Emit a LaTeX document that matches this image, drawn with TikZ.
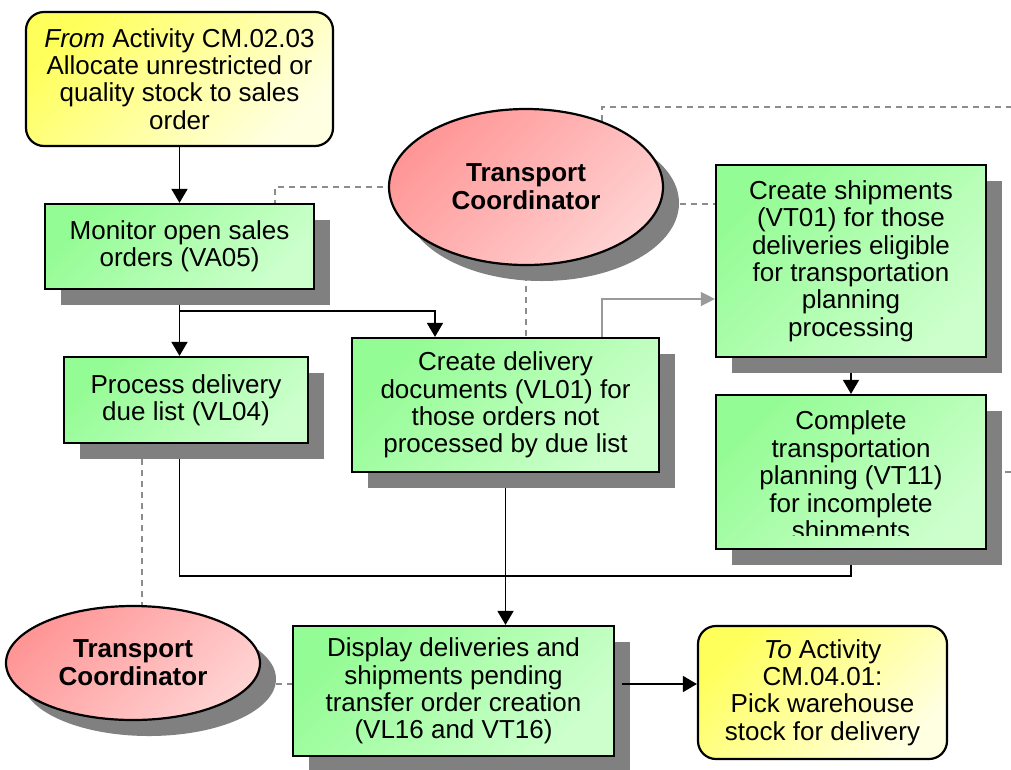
\documentclass[tikz,border=0pt]{standalone}
\usepackage{fontspec}
\setmainfont{Liberation Sans}
\usetikzlibrary{shapes.geometric,shadows,arrows.meta,backgrounds}

\definecolor{greenA}{HTML}{94FC94}
\definecolor{greenB}{HTML}{CCFFCC}
\definecolor{yelA}{HTML}{FFFF5C}
\definecolor{yelB}{HTML}{FFFFE2}
\definecolor{pinkA}{HTML}{FF9696}
\definecolor{pinkB}{HTML}{FFD2D2}
\definecolor{shadowgray}{HTML}{808080}
\definecolor{dashgray}{HTML}{8C8C8C}
\definecolor{linkgray}{HTML}{9A9A9A}

\tikzset{
  base/.style={inner sep=0pt, align=center, font=\fontsize{26}{27.4}\selectfont,
    line width=2.2pt, draw=black},
  boxshadow/.style={drop shadow={shadow xshift=16pt, shadow yshift=-16pt,
    fill=shadowgray, opacity=1}},
  task/.style={base, rectangle, top color=greenA, bottom color=greenB,
    shading angle=45, boxshadow},
  source/.style={base, rectangle, rounded corners=18pt, top color=yelA,
    bottom color=yelB, shading angle=45},
  role/.style={base, ellipse, font=\fontsize{26}{28}\selectfont\bfseries,
    top color=pinkA, bottom color=pinkB, shading angle=45, boxshadow},
  txt/.style={inner sep=0pt, align=center, font=\fontsize{26}{27.4}\selectfont},
  line/.style={line width=1.6pt, draw=black},
  conn/.style={line, -{Triangle[length=14pt,width=16pt]}},
  grayconn/.style={line width=1.4pt, draw=linkgray,
    -{Triangle[length=14pt,width=14pt]}},
  dsh/.style={draw=dashgray, line width=1.4pt, dash pattern=on 6pt off 5pt},
}

\begin{document}
\begin{tikzpicture}[x=1pt,y=-1pt]
\useasboundingbox (0,0) rectangle (1011,769);

% activity boxes
\node[source, minimum width=307pt, minimum height=134pt] (fromAct) at (179.5,79)
  {\textit{From} Activity CM.02.03\\Allocate unrestricted or\\quality stock to sales\\order};
\node[task, minimum width=269pt, minimum height=85pt] (monitor) at (179.5,246.5)
  {Monitor open sales\\orders (VA05)};
\node[task, minimum width=244pt, minimum height=86pt] (process) at (186,400)
  {Process delivery\\due list (VL04)};
\node[task, minimum width=307pt, minimum height=134pt] (createDel) at (505.5,405)
  {Create delivery\\documents (VL01) for\\those orders not\\processed by due list};
\node[task, minimum width=270pt, minimum height=192pt] (createShip) at (851,261)
  {Create shipments\\(VT01) for those\\deliveries eligible\\for transportation\\planning\\processing};
\node[task, minimum width=270pt, minimum height=154pt] (complete) at (851,472) {};
\begin{scope}
  \clip (718,397) rectangle (984,535);
  \node[txt] (completeText) at (851,478)
    {Complete\\transportation\\planning (VT11)\\for incomplete\\shipments};
\end{scope}
\node[task, minimum width=321pt, minimum height=130pt] (display) at (453.5,691)
  {Display deliveries and\\shipments pending\\transfer order creation\\(VL16 and VT16)};
\node[source, minimum width=249pt, minimum height=133pt] (toAct) at (822.5,692.5)
  {\textit{To} Activity\\CM.04.01:\\Pick warehouse\\stock for delivery};

% roles
\node[role, minimum width=274pt, minimum height=156pt] (tc1) at (526,187)
  {Transport\\Coordinator};
\node[role, minimum width=254pt, minimum height=114pt] (tc2) at (133,663)
  {Transport\\Coordinator};

% helper points
\coordinate (split) at (179.5,311);
\path (createDel.south) ++(0,103) coordinate (join);
\coordinate (ay) at (0,684);
\coordinate (exitTop) at (1011,107);
\coordinate (exitMid) at (1011,470);

\begin{pgfonlayer}{background}
  \fill[white] (0,0) rectangle (1011,769);
  % role associations
  \draw[dsh] (tc1.center) -| ([xshift=95.5pt]monitor.north);
  \draw[dsh] ([yshift=-17pt]tc1.center) -- ([yshift=57pt]createShip.west);
  \draw[dsh] (tc1.center) -- (tc1.center |- createDel.north);
  \draw[dsh] ([xshift=76pt]tc1.center) |- (exitTop);
  \draw[dsh] (complete.center) -- (complete.center -| exitMid);
  \draw[dsh] ([xshift=9pt]tc2.center) -- ([xshift=9pt]tc2.center |- process.south);
  \draw[dsh] (tc2.center |- ay) -- (display.west |- ay);
  % process flow
  \draw[conn] (fromAct.south) -- (monitor.north);
  \draw[conn] (monitor.south) -- (monitor.south |- process.north);
  \draw[conn] (split) -| ([xshift=-70.5pt]createDel.north);
  \draw[line] (process.south -| split) |- (join);
  \draw[line] (complete.south) |- (join);
  \draw[conn] (createDel.south) -- (createDel.south |- display.north);
  \draw[conn] (createShip.south) -- (complete.north);
  \draw[grayconn] ([xshift=96.5pt]createDel.north) |- ([yshift=-38pt]createShip.west);
\end{pgfonlayer}

\draw[conn] ([xshift=7pt]display.east |- ay) -- (toAct.west |- ay);
\end{tikzpicture}
\end{document}
